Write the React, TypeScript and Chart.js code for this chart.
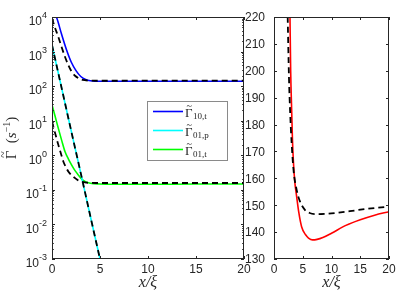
import React, { useEffect, useRef } from 'react';
import { Chart, registerables } from 'chart.js';
Chart.register(...registerables);

// ---------- data ----------
const xTickValues = [0, 5, 10, 15, 20];
const logTickExponents = [-3, -2, -1, 0, 1, 2, 3, 4];
const rightYTickValues = [130, 140, 150, 160, 170, 180, 190, 200, 210, 220];

// left panel: Gamma_10,t (blue) and its fit (dashed)
const g10tX = [0.45, 0.5, 1.0, 1.5, 2.0, 2.5, 3.0, 3.5, 4.0, 5, 6, 8, 10, 15, 20];
const g10tY = [10000, 9330, 3160, 1150, 500, 282, 190, 155, 143, 138, 138, 138, 138, 139, 139];
const g10tFitX = [0, 0.3, 0.65, 1.0, 1.35, 1.7, 2.05, 2.4, 2.75, 3.2, 3.8, 5, 10, 15, 20];
const g10tFitY = [9120, 5010, 2690, 1350, 708, 407, 263, 200, 170, 151, 145, 143, 144, 144, 144];

// Gamma_01,p (cyan) and its fit (dashed)
const g01pX = [0, 1, 2, 3, 4, 5, 5.3];
const g01pY = [1550, 89, 5.1, 0.3, 0.017, 0.001, 0.00043];
const g01pFitX = [0, 1, 2, 3, 4, 5, 5.3];
const g01pFitY = [1550, 89, 5.1, 0.3, 0.017, 0.001, 0.00043];

// Gamma_01,t (green) and its fit (dashed)
const g01tX = [0, 0.33, 0.66, 1.0, 1.35, 1.7, 2.05, 2.4, 2.74, 3.1, 3.44, 4.0, 5.0, 6, 8, 10, 15, 20];
const g01tY = [28.8, 13.2, 6.0, 2.75, 1.29, 0.79, 0.52, 0.36, 0.27, 0.204, 0.174, 0.155, 0.148, 0.145, 0.145, 0.145, 0.147, 0.147];
const g01tFitX = [0, 0.33, 0.66, 0.92, 1.18, 1.45, 1.7, 2.05, 2.4, 2.75, 3.1, 3.6, 4.5, 6, 10, 15, 20];
const g01tFitY = [9.3, 4.3, 2.0, 1.15, 0.66, 0.457, 0.339, 0.263, 0.219, 0.186, 0.17, 0.162, 0.158, 0.158, 0.158, 0.158, 0.158];

// right panel: 1/T1 (red) and its fit (dashed)
const invT1X = [2.78, 2.9, 3.07, 3.2, 3.36, 3.6, 3.94, 4.3, 4.8, 5.5, 6.0, 6.7, 7.5, 8.5, 10, 12.5, 15, 17.5, 20];
const invT1Y = [220, 200, 185.4, 175, 166.8, 159, 153.2, 147.5, 142, 139, 137.8, 137.1, 137.3, 138, 139.6, 142.5, 144.6, 146.3, 147.6];
const invT1FitX = [2.38, 2.6, 2.8, 3.07, 3.4, 3.94, 4.5, 5.4, 6.2, 7.4, 9, 11, 13.2, 16, 20];
const invT1FitY = [220, 197.8, 185, 173, 163, 155.7, 151.5, 148.2, 147.1, 146.7, 146.8, 147.2, 147.8, 148.6, 149.5];

const AXIS = '#262626';
const SANS = '"Liberation Sans", Arial, sans-serif';
const SERIF = '"Liberation Serif", "DejaVu Serif", serif';

const pts = (xs: number[], ys: number[]) => xs.map((x, i) => ({ x, y: ys[i] }));

function lineDs(label: string, xs: number[], ys: number[], color: string, dashed: boolean) {
  return {
    label,
    data: pts(xs, ys),
    borderColor: color,
    backgroundColor: color,
    borderWidth: dashed ? 1.8 : 1.6,
    borderDash: dashed ? [6, 4] : [],
    pointRadius: 0,
    fill: false,
    cubicInterpolationMode: 'monotone' as const,
    order: dashed ? 1 : 2,
  };
}

// draws a Gamma with a tilde accent; returns its width
function drawGammaTilde(ctx: CanvasRenderingContext2D, x: number, y: number, size: number) {
  ctx.font = `${size}px ${SERIF}`;
  ctx.textAlign = 'left';
  ctx.textBaseline = 'alphabetic';
  ctx.fillText('\u0393', x, y);
  const w = ctx.measureText('\u0393').width;
  ctx.textAlign = 'center';
  ctx.font = `${Math.round(size * 0.8)}px ${SERIF}`;
  ctx.fillText('~', x + w / 2 + size * 0.03, y - size * 0.58);
  ctx.textAlign = 'left';
  return w;
}

function drawXAxis(ctx: CanvasRenderingContext2D, chart: any) {
  const a = chart.chartArea;
  const xs = chart.scales.x;
  ctx.fillStyle = AXIS;
  ctx.strokeStyle = AXIS;
  ctx.lineWidth = 1;
  ctx.font = `12px ${SANS}`;
  ctx.textAlign = 'center';
  ctx.textBaseline = 'top';
  for (const v of xTickValues) {
    const px = Math.round(xs.getPixelForValue(v)) + 0.5;
    ctx.beginPath();
    ctx.moveTo(px, a.bottom);
    ctx.lineTo(px, a.bottom - 3);
    ctx.moveTo(px, a.top);
    ctx.lineTo(px, a.top + 3);
    ctx.stroke();
    ctx.fillText(String(v), xs.getPixelForValue(v), a.bottom + 5);
  }
  const cx = (a.left + a.right) / 2;
  ctx.font = `italic 16px ${SERIF}`;
  ctx.textBaseline = 'alphabetic';
  ctx.textAlign = 'center';
  ctx.fillText('x/ξ', cx, a.bottom + 28);
}

function drawBox(ctx: CanvasRenderingContext2D, a: any) {
  ctx.strokeStyle = AXIS;
  ctx.lineWidth = 1;
  ctx.strokeRect(a.left + 0.5, a.top + 0.5, a.right - a.left - 1, a.bottom - a.top - 1);
}

const leftFrame = {
  id: 'leftFrame',
  afterDraw(chart: any) {
    const ctx: CanvasRenderingContext2D = chart.ctx;
    const a = chart.chartArea;
    const ys = chart.scales.y;
    ctx.save();
    drawBox(ctx, a);
    drawXAxis(ctx, chart);
    ctx.strokeStyle = AXIS;
    ctx.lineWidth = 1;
    ctx.beginPath();
    for (const e of logTickExponents) {
      const py = Math.round(ys.getPixelForValue(Math.pow(10, e))) + 0.5;
      ctx.moveTo(a.left, py);
      ctx.lineTo(a.left + 3, py);
      ctx.moveTo(a.right, py);
      ctx.lineTo(a.right - 3, py);
      if (e < 4) {
        for (let k = 2; k <= 9; k++) {
          const pm = Math.round(ys.getPixelForValue(k * Math.pow(10, e))) + 0.5;
          ctx.moveTo(a.left, pm);
          ctx.lineTo(a.left + 1.8, pm);
          ctx.moveTo(a.right, pm);
          ctx.lineTo(a.right - 1.8, pm);
        }
      }
    }
    ctx.stroke();
    ctx.fillStyle = AXIS;
    ctx.textAlign = 'right';
    ctx.textBaseline = 'middle';
    for (const e of logTickExponents) {
      const py = ys.getPixelForValue(Math.pow(10, e));
      const expStr = e < 0 ? '-' + String(-e) : String(e);
      ctx.font = `9px ${SANS}`;
      const ew = ctx.measureText(expStr).width;
      const right = a.left - 5;
      ctx.fillText(expStr, right, py - 1);
      ctx.font = `12px ${SANS}`;
      ctx.fillText('10', right - ew, py + 5);
    }
    // y label: Γ̃ (s^-1)
    ctx.save();
    ctx.translate(16, (a.top + a.bottom) / 2);
    ctx.rotate(-Math.PI / 2);
    const parts: [string, string, number][] = [
      ['  (', `15px ${SERIF}`, 0],
      ['s', `italic 15px ${SERIF}`, 0],
      ['\u2212', `10px ${SERIF}`, -6],
      ['1', `10px ${SERIF}`, -6],
      [')', `15px ${SERIF}`, 0],
    ];
    ctx.font = `15px ${SERIF}`;
    let total = ctx.measureText('\u0393').width;
    for (const [t, f] of parts) { ctx.font = f; total += ctx.measureText(t).width; }
    let x0 = -total / 2;
    ctx.fillStyle = AXIS;
    x0 += drawGammaTilde(ctx, x0, 0, 15);
    ctx.textAlign = 'left';
    ctx.textBaseline = 'alphabetic';
    for (const [t, f, dy] of parts) {
      ctx.font = f;
      ctx.fillText(t, x0, dy);
      x0 += ctx.measureText(t).width;
    }
    ctx.restore();
    // legend
    const lx = 147, ly = 101, lw = 80, lh = 59;
    ctx.fillStyle = '#ffffff';
    ctx.fillRect(lx, ly, lw, lh);
    ctx.strokeStyle = '#8a8a8a';
    ctx.lineWidth = 1;
    ctx.strokeRect(lx + 0.5, ly + 0.5, lw, lh);
    const rows = [
      { ds: 1, sub: '10,t', y: 111.5 },
      { ds: 3, sub: '01,p', y: 130.5 },
      { ds: 5, sub: '01,t', y: 149.5 },
    ];
    for (const r of rows) {
      const ds = chart.data.datasets[r.ds];
      ctx.strokeStyle = ds.borderColor;
      ctx.lineWidth = 1.6;
      ctx.beginPath();
      ctx.moveTo(153, r.y);
      ctx.lineTo(183, r.y);
      ctx.stroke();
      ctx.fillStyle = AXIS;
      const gw = drawGammaTilde(ctx, 185, r.y + 5, 13);
      ctx.textAlign = 'left';
      ctx.textBaseline = 'alphabetic';
      ctx.font = `9px ${SERIF}`;
      ctx.fillText(r.sub, 185 + gw + 0.5, r.y + 7.5);
    }
    ctx.restore();
  },
};

const rightFrame = {
  id: 'rightFrame',
  afterDraw(chart: any) {
    const ctx: CanvasRenderingContext2D = chart.ctx;
    const a = chart.chartArea;
    const ys = chart.scales.y;
    ctx.save();
    drawBox(ctx, a);
    drawXAxis(ctx, chart);
    ctx.strokeStyle = AXIS;
    ctx.lineWidth = 1;
    ctx.beginPath();
    for (const v of rightYTickValues) {
      const py = Math.round(ys.getPixelForValue(v)) + 0.5;
      ctx.moveTo(a.left, py);
      ctx.lineTo(a.left + 3, py);
      ctx.moveTo(a.right, py);
      ctx.lineTo(a.right - 3, py);
    }
    ctx.stroke();
    ctx.fillStyle = AXIS;
    ctx.font = `12px ${SANS}`;
    ctx.textAlign = 'right';
    ctx.textBaseline = 'middle';
    for (const v of rightYTickValues) {
      ctx.fillText(String(v), a.left - 9, ys.getPixelForValue(v) + 1);
    }
    // legend
    const lx = 303, ly = 115, lw = 80, lh = 28;
    ctx.fillStyle = '#ffffff';
    ctx.fillRect(lx, ly, lw, lh);
    ctx.strokeStyle = '#8a8a8a';
    ctx.strokeRect(lx + 0.5, ly + 0.5, lw, lh);
    const ds = chart.data.datasets[1];
    ctx.strokeStyle = ds.borderColor;
    ctx.lineWidth = 1.6;
    ctx.beginPath();
    ctx.moveTo(309, 129.5);
    ctx.lineTo(338, 129.5);
    ctx.stroke();
    ctx.fillStyle = AXIS;
    ctx.textAlign = 'left';
    ctx.textBaseline = 'alphabetic';
    let x = 342;
    ctx.font = `16px ${SERIF}`;
    ctx.fillText('1/', x, 135);
    x += ctx.measureText('1/').width;
    ctx.font = `italic 16px ${SERIF}`;
    ctx.fillText('T', x, 135);
    x += ctx.measureText('T').width;
    ctx.font = `11px ${SERIF}`;
    ctx.fillText('1', x, 138);
    ctx.restore();
  },
};

function baseOptions(yScale: any, padding: any) {
  return {
    responsive: false,
    animation: false as const,
    devicePixelRatio: 1,
    layout: { padding },
    plugins: { legend: { display: false }, tooltip: { enabled: false }, title: { display: false } },
    scales: {
      x: { type: 'linear' as const, min: 0, max: 20, display: false },
      y: { ...yScale, display: false },
    },
  };
}

export default function App() {
  const leftRef = useRef<HTMLCanvasElement | null>(null);
  const rightRef = useRef<HTMLCanvasElement | null>(null);

  useEffect(() => {
    const left = new Chart(leftRef.current as HTMLCanvasElement, {
      type: 'line',
      data: {
        datasets: [
          lineDs('Γ̃10,t fit', g10tFitX, g10tFitY, '#000000', true),
          lineDs('Γ̃10,t', g10tX, g10tY, '#0000ff', false),
          lineDs('Γ̃01,p fit', g01pFitX, g01pFitY, '#000000', true),
          lineDs('Γ̃01,p', g01pX, g01pY, '#00ffff', false),
          lineDs('Γ̃01,t fit', g01tFitX, g01tFitY, '#000000', true),
          lineDs('Γ̃01,t', g01tX, g01tY, '#00ff00', false),
        ],
      },
      options: baseOptions({ type: 'logarithmic', min: 1e-3, max: 1e4 }, { left: 52, top: 17, right: 8, bottom: 40 }) as any,
      plugins: [leftFrame],
    });
    const right = new Chart(rightRef.current as HTMLCanvasElement, {
      type: 'line',
      data: {
        datasets: [
          lineDs('1/T1 fit', invT1FitX, invT1FitY, '#000000', true),
          lineDs('1/T1', invT1X, invT1Y, '#ff0000', false),
        ],
      },
      options: baseOptions({ type: 'linear', min: 130, max: 220 }, { left: 34, top: 17, right: 10, bottom: 40 }) as any,
      plugins: [rightFrame],
    });
    return () => {
      left.destroy();
      right.destroy();
    };
  }, []);

  return (
    <div style={{ position: 'fixed', left: 0, top: 0, width: 399, height: 299, background: '#ffffff' }}>
      <canvas ref={leftRef} width={252} height={299} style={{ position: 'absolute', left: 0, top: 0 }} />
      <canvas ref={rightRef} width={159} height={299} style={{ position: 'absolute', left: 240, top: 0 }} />
    </div>
  );
}
